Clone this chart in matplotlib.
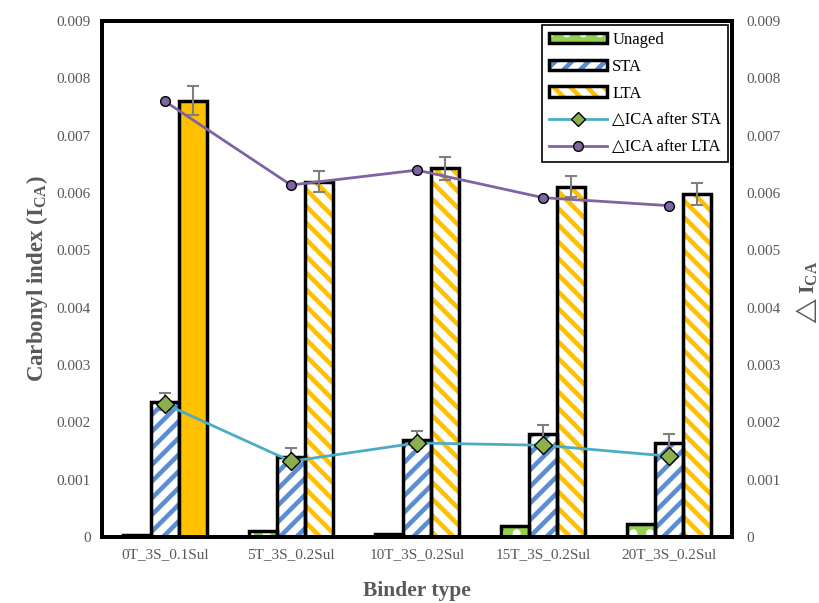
import numpy as np
import matplotlib
matplotlib.use("Agg")
import matplotlib.pyplot as plt
from matplotlib.patches import Patch
from matplotlib.lines import Line2D
from matplotlib.legend_handler import HandlerTuple

plt.rcParams['font.family'] = ['Liberation Serif', 'DejaVu Serif']
plt.rcParams['hatch.linewidth'] = 3.3
plt.rcParams['mathtext.fontset'] = 'custom'
plt.rcParams['mathtext.rm'] = 'Liberation Serif'
plt.rcParams['mathtext.bf'] = 'Liberation Serif:bold'

# data
binders = ["0T_3S_0.1Sul", "5T_3S_0.2Sul", "10T_3S_0.2Sul", "15T_3S_0.2Sul", "20T_3S_0.2Sul"]
unaged = [0.00004, 0.00010, 0.00006, 0.00020, 0.00022]
sta = [0.00236, 0.00140, 0.00170, 0.00179, 0.00164]
sta_err = [0.00015, 0.00015, 0.00015, 0.00016, 0.00015]
lta = [0.00761, 0.00620, 0.00643, 0.00611, 0.00599]
lta_err = [0.00025, 0.00018, 0.00020, 0.00018, 0.00019]
d_sta = [0.00232, 0.00132, 0.00164, 0.00160, 0.00141]
d_lta = [0.00760, 0.00614, 0.00640, 0.00592, 0.00578]

GREEN = '#92D050'
BLUE = '#5B8DD3'
GOLD = '#FFC000'
TEAL = '#4BACC6'
PURPLE = '#8064A2'
GREY = '#595959'

fig = plt.figure(figsize=(8.19, 6.03), dpi=100)
ax = fig.add_axes([0.1245, 0.1095, 0.7693, 0.8555])
x = np.arange(len(binders))
w = 0.222


def hatched_bars(xs, vals, face, hatch, hcolor):
    ax.bar(xs, vals, w, color=face, hatch=hatch, edgecolor=hcolor, linewidth=0, zorder=2)
    ax.bar(xs, vals, w, facecolor='none', edgecolor='black', linewidth=2.5, zorder=3)


hatched_bars(x - w, unaged, GREEN, '.', 'white')
hatched_bars(x, sta, 'white', '//', BLUE)
# first LTA bar is solid, others hatched
ax.bar(x[0] + w, lta[0], w, color=GOLD, edgecolor='black', linewidth=2.5, zorder=3)
hatched_bars(x[1:] + w, lta[1:], 'white', '\\\\', GOLD)

ax.errorbar(x, sta, yerr=sta_err, fmt='none', ecolor='#7F7F7F', elinewidth=1.5,
            capsize=4, capthick=1.5, zorder=4)
ax.errorbar(x + w, lta, yerr=lta_err, fmt='none', ecolor='#7F7F7F', elinewidth=1.5,
            capsize=4, capthick=1.5, zorder=4)

ax.set_xlim(-0.5, len(binders) - 0.5)
ax.set_ylim(0, 0.009)
ticks = np.arange(0, 0.0091, 0.001)
tick_labels = ['0'] + [f"{v:.3f}" for v in ticks[1:]]
ax.set_yticks(ticks)
ax.set_yticklabels(tick_labels)
ax.set_xticks(x)
ax.set_xticklabels(binders)
ax.tick_params(length=0, labelsize=11, labelcolor=GREY, pad=8)
for s in ax.spines.values():
    s.set_linewidth(2.8)

ax.set_ylabel(r'Carbonyl index ($\mathbf{I_{CA}}$)', fontsize=16.5, fontweight='bold',
              color=GREY, labelpad=5)
ax.set_xlabel('Binder type', fontsize=15.5, fontweight='bold', color=GREY, labelpad=14)

ax2 = ax.twinx()
ax2.plot(x, d_sta, color=TEAL, lw=2, marker='D', ms=9, mfc='#8DB04F', mec='black',
         mew=1.0, zorder=5)
ax2.plot(x, d_lta, color=PURPLE, lw=2, marker='o', ms=7, mfc=PURPLE, mec='black',
         mew=1.0, zorder=5)
ax2.set_ylim(0, 0.009)
ax2.set_yticks(ticks)
ax2.set_yticklabels(tick_labels)
ax2.tick_params(length=0, labelsize=11, labelcolor=GREY, pad=10)
ax2.set_ylabel(r'$\triangle\mathbf{I_{CA}}$', fontsize=16, color=GREY, rotation=90)
ax2.yaxis.set_label_coords(1.098, 0.47)
for s in ax2.spines.values():
    s.set_linewidth(2.8)


def bar_handle(face, hatch, hcolor):
    return (Patch(facecolor=face, hatch=hatch, edgecolor=hcolor, linewidth=0),
            Patch(facecolor='none', edgecolor='black', linewidth=2.5))


handles = [
    bar_handle(GREEN, '.', 'white'),
    bar_handle('white', '//', BLUE),
    bar_handle('white', '\\\\', GOLD),
    Line2D([], [], color=TEAL, lw=2, marker='D', ms=7, mfc='#8DB04F', mec='black'),
    Line2D([], [], color=PURPLE, lw=2, marker='o', ms=7, mfc=PURPLE, mec='black'),
]
labels = ['Unaged', 'STA', 'LTA', '\u25b3ICA after STA', '\u25b3ICA after LTA']
leg = ax2.legend(handles, labels, loc='upper right', bbox_to_anchor=(0.9937, 0.992),
                 fontsize=12, frameon=True, fancybox=False, edgecolor='black',
                 borderaxespad=0, handlelength=3.5, handleheight=0.6,
                 handletextpad=0.3, labelspacing=0.65, framealpha=1,
                 handler_map={tuple: HandlerTuple(ndivide=1)})
leg.get_frame().set_linewidth(1.2)

fig.savefig('out.png', dpi=100)
